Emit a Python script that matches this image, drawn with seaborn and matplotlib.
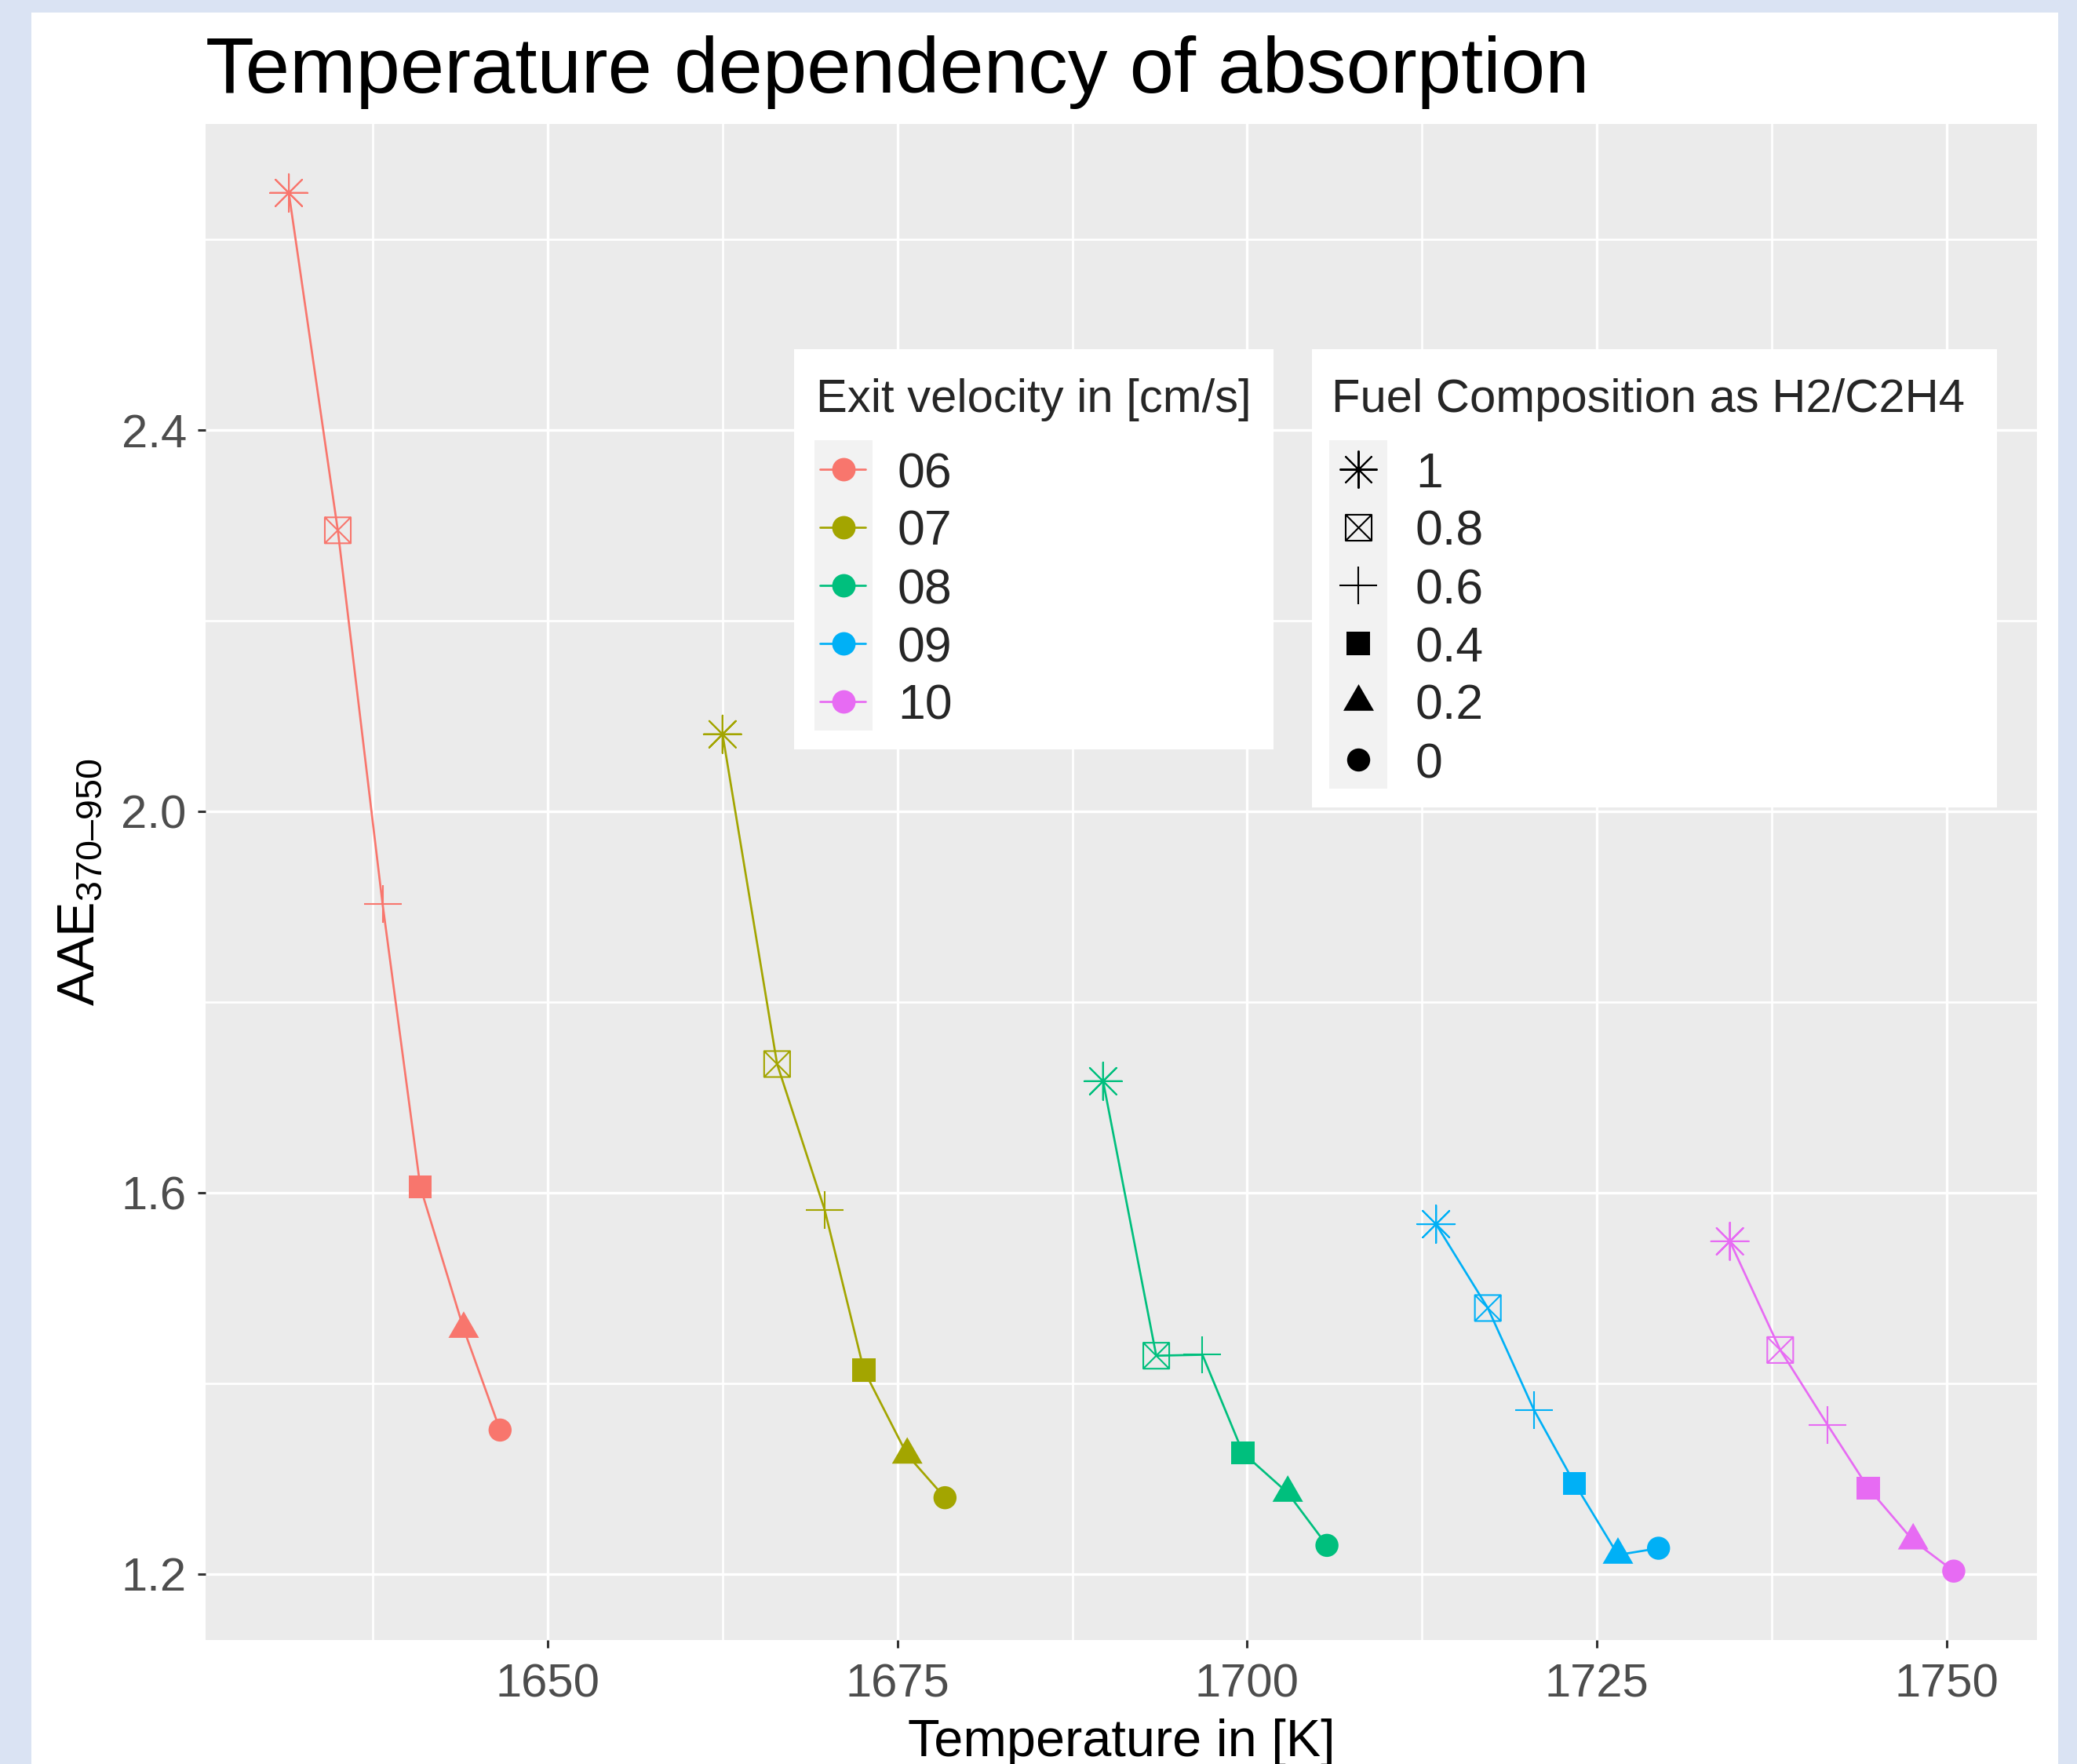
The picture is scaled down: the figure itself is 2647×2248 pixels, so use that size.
import numpy as np
import pandas as pd
import matplotlib
matplotlib.use("Agg")
import matplotlib.pyplot as plt
import seaborn as sns
from matplotlib.path import Path
from matplotlib.patches import Rectangle
from matplotlib.lines import Line2D
from matplotlib.ticker import MultipleLocator, AutoMinorLocator, FormatStrFormatter

# data
velocities = ["06", "07", "08", "09", "10"]
compositions = ["1", "0.8", "0.6", "0.4", "0.2", "0"]

temp_06 = [1631.5, 1635.0, 1638.2, 1640.9, 1644.0, 1646.6]
aae_06 = [2.649, 2.295, 1.903, 1.606, 1.457, 1.351]
temp_07 = [1662.5, 1666.4, 1669.8, 1672.6, 1675.7, 1678.4]
aae_07 = [2.081, 1.735, 1.582, 1.414, 1.325, 1.280]
temp_08 = [1689.7, 1693.5, 1696.8, 1699.7, 1702.9, 1705.7]
aae_08 = [1.717, 1.429, 1.430, 1.327, 1.285, 1.230]
temp_09 = [1713.5, 1717.2, 1720.5, 1723.4, 1726.5, 1729.4]
aae_09 = [1.567, 1.479, 1.372, 1.295, 1.220, 1.227]
temp_10 = [1734.5, 1738.1, 1741.5, 1744.4, 1747.6, 1750.5]
aae_10 = [1.549, 1.435, 1.356, 1.290, 1.235, 1.203]

colors = ["#F8766D", "#A3A500", "#00BF7D", "#00B0F6", "#E76BF3"]

temps = [temp_06, temp_07, temp_08, temp_09, temp_10]
aaes = [aae_06, aae_07, aae_08, aae_09, aae_10]
rows = []
for v, t_list, a_list in zip(velocities, temps, aaes):
    for c, t, a in zip(compositions, t_list, a_list):
        rows.append({"velocity": v, "composition": c, "temp": t, "aae": a})
df = pd.DataFrame(rows)
palette = dict(zip(velocities, colors))

sns.set_theme(style="darkgrid", rc={"axes.facecolor": "#EBEBEB", "grid.color": "white"})
plt.rcParams["font.family"] = ["Liberation Sans", "DejaVu Sans"]
plt.rcParams["mathtext.fontset"] = "custom"
plt.rcParams["mathtext.rm"] = "Liberation Sans"
plt.rcParams["mathtext.it"] = "Liberation Sans:italic"

# ggplot-like marker shapes
box_x = Path([(-1, -1), (1, -1), (1, 1), (-1, 1), (-1, -1), (-1, -1), (1, 1), (-1, 1), (1, -1)],
             [Path.MOVETO, Path.LINETO, Path.LINETO, Path.LINETO, Path.CLOSEPOLY,
              Path.MOVETO, Path.LINETO, Path.MOVETO, Path.LINETO])
tri = Path([(0, 1), (-0.866, -0.5), (0.866, -0.5), (0, 1)],
           [Path.MOVETO, Path.LINETO, Path.LINETO, Path.CLOSEPOLY])
shapes = {
    "1": dict(marker=(8, 2, 0), size=34.5, kind="line"),
    "0.8": dict(marker=box_x, size=23.8, kind="open"),
    "0.6": dict(marker="+", size=34.5, kind="line"),
    "0.4": dict(marker="s", size=21.2, kind="fill"),
    "0.2": dict(marker=tri, size=32.4, kind="fill"),
    "0": dict(marker="o", size=21.2, kind="fill"),
}

W, H = 2647, 2248
fig = plt.figure(figsize=(W / 100, H / 100), dpi=100, facecolor="#DAE3F3")
fig.add_artist(Rectangle((40 / W, 0), (2623 - 40) / W, 1 - 16 / H, transform=fig.transFigure,
                         facecolor="white", edgecolor="none", zorder=-1))
ax = fig.add_axes([262 / W, 1 - 2090 / H, (2596 - 262) / W, (2090 - 158) / H])

sns.lineplot(data=df, x="temp", y="aae", hue="velocity", palette=palette, estimator=None,
             sort=True, lw=1.95, legend=False, ax=ax, zorder=2)

for comp in compositions:
    sub = df[df["composition"] == comp]
    cols = sub["velocity"].map(palette).tolist()
    spec = shapes[comp]
    s = spec["size"] ** 2
    if spec["kind"] == "fill":
        ax.scatter(sub["temp"], sub["aae"], marker=spec["marker"], s=s, c=cols, linewidths=0, zorder=3)
    elif spec["kind"] == "line":
        ax.scatter(sub["temp"], sub["aae"], marker=spec["marker"], s=s, c=cols, linewidths=1.5, zorder=3)
    else:
        ax.scatter(sub["temp"], sub["aae"], marker=spec["marker"], s=s, facecolors="none",
                   edgecolors=cols, linewidths=1.5, zorder=3)

# ggplot default 5% expansion
xlo, xhi = df["temp"].min(), df["temp"].max()
ylo, yhi = df["aae"].min(), df["aae"].max()
ax.set_xlim(xlo - 0.05 * (xhi - xlo), xhi + 0.05 * (xhi - xlo))
ax.set_ylim(ylo - 0.05 * (yhi - ylo), yhi + 0.05 * (yhi - ylo))

ax.xaxis.set_major_locator(MultipleLocator(25))
ax.xaxis.set_minor_locator(AutoMinorLocator(2))
ax.yaxis.set_major_locator(MultipleLocator(0.4))
ax.yaxis.set_minor_locator(AutoMinorLocator(2))
ax.yaxis.set_major_formatter(FormatStrFormatter("%.1f"))
ax.xaxis.set_major_formatter(FormatStrFormatter("%d"))
ax.grid(which="major", color="white", lw=2.4)
ax.grid(which="minor", color="white", lw=1.9)
ax.set_axisbelow(True)
for sp in ax.spines.values():
    sp.set_visible(False)
ax.tick_params(which="major", length=7.5, width=2.2, color="#333333", labelsize=43,
               labelcolor="#4D4D4D", bottom=True, left=True)
ax.tick_params(axis="x", which="major", pad=13.5)
ax.tick_params(axis="y", which="major", pad=9.9)
ax.tick_params(which="minor", length=0)

ax.set_xlabel("Temperature in [K]", fontsize=48, color="black")
ax.xaxis.set_label_coords(0.5, (2090 - 2190) / (2090 - 158))
ax.set_ylabel(r"AAE$_{\mathrm{370–950}}$", fontsize=48, color="black")
ax.yaxis.set_label_coords((134 - 262) / (2596 - 262), 0.5)

fig.text(262 / W, 1 - 118 / H, "Temperature dependency of absorption", fontsize=73,
         ha="left", va="baseline", color="black")


# legends drawn ggplot style
def box(x0, y0, w, h, color, z):
    fig.add_artist(Rectangle((x0 / W, 1 - (y0 + h) / H), w / W, h / H, transform=fig.transFigure,
                             facecolor=color, edgecolor="none", zorder=z))


box(1012, 445, 1623 - 1012, 955 - 445, "white", 5)
fig.text(1040 / W, 1 - 525 / H, "Exit velocity in [cm/s]", fontsize=43, va="baseline", zorder=6)
for i, v in enumerate(velocities):
    ky = 561 + 74 * i
    cy = 1 - (ky + 37) / H
    box(1038, ky, 74, 74, "#F2F2F2", 6)
    fig.add_artist(Line2D([1045 / W, 1103 / W], [cy, cy], transform=fig.transFigure,
                          color=palette[v], lw=1.95, zorder=7))
    fig.add_artist(Line2D([1075 / W], [cy], transform=fig.transFigure, marker="o", ms=21.5,
                          mew=0, color=palette[v], zorder=8))
    fig.text(1144 / W, 1 - (ky + 37 + 23) / H, v, fontsize=45, va="baseline", zorder=8)

box(1672, 445, 2545 - 1672, 1029 - 445, "white", 5)
fig.text(1697 / W, 1 - 525 / H, "Fuel Composition as H2/C2H4", fontsize=43, va="baseline", zorder=6)
for i, comp in enumerate(compositions):
    ky = 561 + 74 * i
    cy = 1 - (ky + 37) / H
    box(1694, ky, 74, 74, "#F2F2F2", 6)
    spec = shapes[comp]
    if spec["kind"] == "open":
        kw = dict(markerfacecolor="none", markeredgecolor="black", mew=1.5)
    elif spec["kind"] == "line":
        kw = dict(markeredgecolor="black", mew=1.5)
    else:
        kw = dict(markerfacecolor="black", mew=0)
    fig.add_artist(Line2D([1731 / W], [cy], transform=fig.transFigure, marker=spec["marker"],
                          ms=spec["size"], color="black", linestyle="none", zorder=8, **kw))
    fig.text(1804 / W, 1 - (ky + 37 + 23) / H, comp, fontsize=45, va="baseline", zorder=8)

fig.savefig("out.png", dpi=100, facecolor=fig.get_facecolor())
